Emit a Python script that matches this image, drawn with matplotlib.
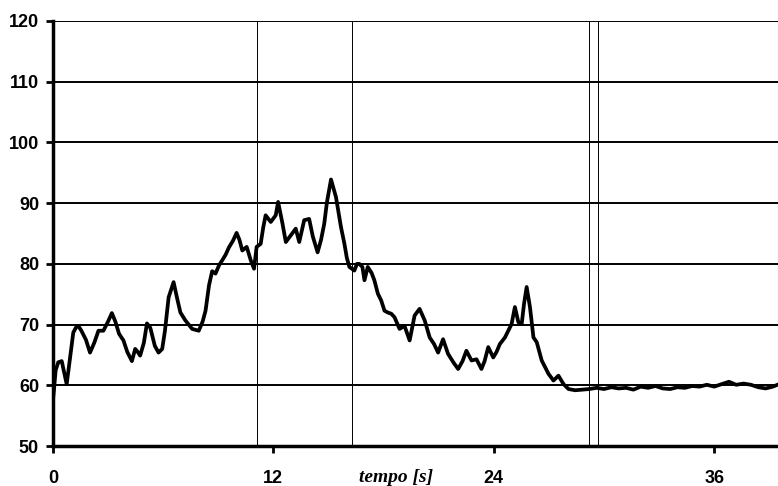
import numpy as np
import matplotlib.pyplot as plt

# values
tempo = [0.00, 0.05, 0.15, 0.29, 0.48, 0.62, 0.75, 0.95, 1.11, 1.25, 1.38, 1.55, 1.80, 2.02,
         2.25, 2.48, 2.75, 3.00, 3.21, 3.40, 3.60, 3.84, 4.05, 4.30, 4.48, 4.62, 4.75, 4.95,
         5.12, 5.30, 5.55, 5.75, 5.95, 6.10, 6.30, 6.57, 6.75, 6.94, 7.21, 7.58, 7.94, 8.15,
         8.31, 8.50, 8.67, 8.85, 9.05, 9.22, 9.40, 9.58, 9.80, 10.00, 10.15, 10.31, 10.55,
         10.77, 10.95, 11.09, 11.31, 11.45, 11.58, 11.86, 12.13, 12.26, 12.50, 12.68, 12.95,
         13.22, 13.41, 13.55, 13.68, 13.95, 14.15, 14.41, 14.60, 14.77, 14.92, 15.14, 15.41,
         15.68, 15.87, 16.00, 16.14, 16.41, 16.55, 16.68, 16.85, 16.96, 17.14, 17.35, 17.50,
         17.69, 17.87, 18.05, 18.23, 18.42, 18.60, 18.87, 19.14, 19.42, 19.69, 19.96, 20.24,
         20.51, 20.75, 20.97, 21.24, 21.51, 21.80, 22.06, 22.30, 22.51, 22.79, 23.06, 23.33,
         23.50, 23.70, 23.97, 24.15, 24.33, 24.61, 24.79, 24.97, 25.15, 25.34, 25.52, 25.65,
         25.79, 25.97, 26.16, 26.34, 26.61, 26.98, 27.25, 27.52, 27.80, 28.07, 28.43,
         28.8, 29.2, 29.6, 30.0, 30.4, 30.8, 31.2, 31.6, 32.0, 32.4, 32.8, 33.2, 33.6, 34.0,
         34.4, 34.8, 35.2, 35.6, 36.0, 36.4, 36.8, 37.2, 37.6, 38.0, 38.4, 38.8, 39.2, 39.6]
valore = [57.5, 59.0, 62.5, 63.8, 64.0, 62.0, 60.2, 65.0, 68.7, 69.5, 69.8, 69.0, 67.5, 65.4,
          67.0, 69.0, 69.0, 70.5, 71.9, 70.5, 68.5, 67.4, 65.5, 64.0, 66.0, 65.5, 64.9, 67.0,
          70.2, 69.5, 66.5, 65.4, 66.0, 69.0, 74.5, 77.0, 74.5, 72.0, 70.7, 69.3, 69.0, 70.5,
          72.3, 76.5, 78.8, 78.4, 79.8, 80.6, 81.5, 82.7, 83.8, 85.1, 84.0, 82.2, 82.8,
          80.6, 79.2, 82.8, 83.3, 86.0, 88.0, 86.9, 88.0, 90.2, 86.6, 83.6, 84.7,
          85.8, 83.6, 85.5, 87.2, 87.4, 84.5, 81.9, 84.0, 86.6, 90.2, 93.9, 91.0,
          86.1, 83.3, 81.0, 79.5, 78.9, 80.0, 80.0, 79.5, 77.3, 79.5, 78.5, 77.3,
          75.1, 74.0, 72.3, 72.0, 71.8, 71.2, 69.3, 69.8, 67.4, 71.5, 72.6, 70.7,
          67.9, 66.8, 65.4, 67.6, 65.2, 63.8, 62.7, 64.0, 65.7, 64.1, 64.3, 62.7,
          64.0, 66.3, 64.6, 65.5, 66.8, 67.9, 69.0, 70.1, 72.9, 70.4, 70.1, 73.5,
          76.2, 72.9, 67.9, 67.1, 64.1, 61.9, 60.8, 61.6, 60.2, 59.4, 59.2,
          59.3, 59.4, 59.6, 59.4, 59.7, 59.5, 59.6, 59.3, 59.8, 59.6, 59.9, 59.5, 59.4, 59.7,
          59.6, 59.9, 59.8, 60.1, 59.8, 60.2, 60.6, 60.1, 60.3, 60.1, 59.7, 59.5, 59.8, 60.3]

vlines = [11.1, 16.3, 29.2, 29.65]
xticks = [0, 12, 24, 36]
yticks = [50, 60, 70, 80, 90, 100, 110, 120]

fig = plt.figure(figsize=(7.78, 4.86), dpi=100)
ax = fig.add_axes([0.068, 0.082, 0.935, 0.875])

for v in yticks:
    ax.axhline(v, color='black', lw=1.4, zorder=1)
for v in vlines:
    ax.axvline(v, color='black', lw=0.7, zorder=1)

ax.plot(tempo, valore, color='black', lw=2.7, zorder=3)

ax.set_xlim(0, 39.6)
ax.set_ylim(50, 120)
ax.set_xticks(xticks)
ax.set_yticks(yticks)

for s in ['top', 'right']:
    ax.spines[s].set_visible(False)
ax.spines['left'].set_linewidth(2.5)
ax.spines['bottom'].set_linewidth(2.5)

ax.tick_params(axis='y', direction='out', length=5, width=2, pad=5)
ax.tick_params(axis='x', direction='out', length=5, width=2, pad=12)
for lab in ax.get_xticklabels() + ax.get_yticklabels():
    lab.set_fontfamily('Liberation Sans')
    lab.set_fontweight('bold')
    lab.set_fontsize(13)

ax.text(18.7, 46.2, 'tempo [s]', ha='center', va='top',
        fontfamily='Liberation Serif', fontstyle='italic', fontweight='bold',
        fontsize=14, clip_on=False)

fig.savefig('out.png', dpi=100)
